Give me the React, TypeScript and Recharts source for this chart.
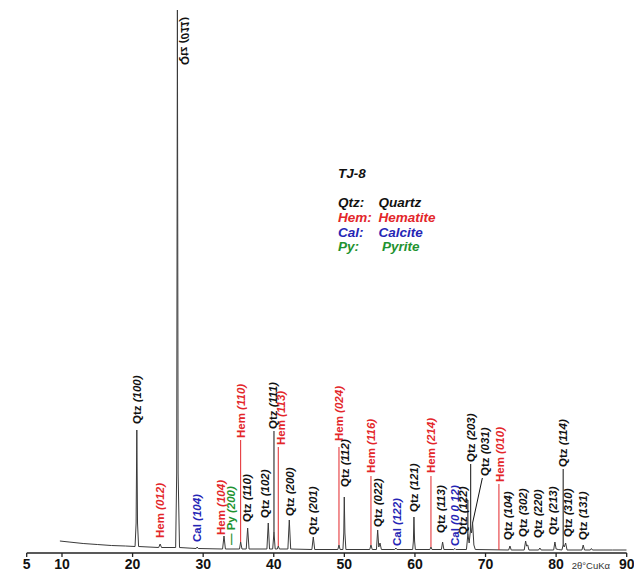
import {
    LineChart,
    Line,
    XAxis,
    YAxis,
    ReferenceLine,
    ReferenceDot,
} from 'recharts';

// measured XRD pattern of sample TJ-8 (2theta in degrees, intensity in a.u.)
const twoTheta = [
    9.7, 11, 13, 15, 17, 19,
    20.35, 20.5, 20.6, 20.7, 20.85,
    23.7, 23.9, 24.1,
    26.1, 26.25, 26.35, 26.45, 26.65,
    29.0, 29.15, 29.3,
    32.75, 32.95, 33.15,
    35.15, 35.31, 35.5,
    36.1, 36.3, 36.5,
    39.03, 39.22, 39.4,
    39.85, 40.03, 40.2,
    40.5, 40.64, 40.8,
    42.0, 42.2, 42.4,
    45.4, 45.6, 45.8,
    49.08, 49.24, 49.4,
    49.8, 49.92, 49.99, 50.08, 50.22,
    53.6, 53.77, 53.95,
    54.55, 54.72, 54.88, 55.05, 55.25,
    57.15, 57.3, 57.45,
    59.68, 59.78, 59.86, 59.95, 60.06,
    62.12, 62.27, 62.42,
    63.75, 63.92, 64.1,
    65.5, 65.66, 65.8,
    67.3, 67.5, 67.68, 67.9, 68.02, 68.17, 68.35, 68.55,
    73.28, 73.46, 73.64,
    75.48, 75.68, 75.82, 75.98, 76.15,
    77.52, 77.7, 77.88,
    79.65, 79.83, 80.0, 80.3,
    80.82, 81.0, 81.15, 81.35, 81.55,
    83.66, 83.84, 84.02,
    84.85, 85.0, 85.15,
    88, 90,
];
const intensity = [
    12, 11, 9.5, 8.5, 7.5, 7,
    6.5, 30, 123, 30, 6.5,
    5.5, 9, 5.5,
    5.5, 80, 543, 80, 5.5,
    4.5, 6, 4.5,
    4, 17, 4,
    4, 11, 4,
    4, 25, 4,
    4, 30, 4,
    4, 21, 4,
    4, 7, 4,
    4, 33, 4,
    3.5, 16, 3.5,
    3.5, 8, 3.5,
    3.5, 20, 56, 20, 3.5,
    3.5, 8, 3.5,
    3.5, 23, 6, 10, 3.5,
    3.5, 5, 3.5,
    3.5, 12, 36, 12, 3.5,
    3.5, 6, 3.5,
    3.5, 11, 3.5,
    3.5, 4.5, 3.5,
    3.5, 19, 10, 25, 20, 30, 8, 3.5,
    3, 7, 3,
    3, 12, 7, 8, 3,
    3, 5, 3,
    3, 11, 4, 3.5,
    3, 8, 6, 10, 3,
    3, 8, 3,
    3, 4.5, 3,
    3, 3,
];

const xTicks = [5, 10, 20, 30, 40, 50, 60, 70, 80, 90];

const peakNames = [
    'Qtz (100)', 'Hem (012)', 'Qtz (011)', 'Cal (104)', 'Hem (104)', '— Py (200)',
    'Hem (110)', 'Qtz (110)', 'Qtz (102)', 'Qtz (111)', 'Hem (113)', 'Qtz (200)',
    'Qtz (201)', 'Hem (024)', 'Qtz (112)', 'Hem (116)', 'Qtz (022)', 'Cal (122)',
    'Qtz (121)', 'Hem (214)', 'Qtz (113)', 'Cal (0 0 12)', 'Qtz (122)', 'Qtz (203)',
    'Qtz (031)', 'Hem (010)', 'Qtz (104)', 'Qtz (302)', 'Qtz (220)', 'Qtz (213)',
    'Qtz (114)', 'Qtz (310)', 'Qtz (131)',
];

const phaseCodes = ['Qtz', 'Hem', 'Cal', 'Py'];
const phaseNames = ['Quartz', 'Hematite', 'Calcite', 'Pyrite'];

const COLORS: Record<string, string> = {
    Qtz: '#111111',
    Hem: '#e3262a',
    Cal: '#2525b5',
    Py: '#1f9330',
};

// where each label sits: [2theta, intensity at the start of the text]
const labelAt: Record<string, [number, number]> = {
    'Qtz (100)': [20.58, 129],
    'Hem (012)': [23.88, 15],
    'Qtz (011)': [27.38, 488],
    'Cal (104)': [29.12, 11],
    'Hem (104)': [32.52, 18],
    '— Py (200)': [34.0, 8],
    'Hem (110)': [35.31, 115],
    'Qtz (110)': [36.27, 31],
    'Qtz (102)': [38.75, 35],
    'Qtz (111)': [39.85, 124],
    'Hem (113)': [41.0, 108],
    'Qtz (200)': [42.3, 37],
    'Qtz (201)': [45.6, 18],
    'Hem (024)': [49.2, 112],
    'Qtz (112)': [50.08, 66],
    'Hem (116)': [53.8, 80],
    'Qtz (022)': [54.8, 26],
    'Cal (122)': [57.41, 7],
    'Qtz (121)': [59.82, 41],
    'Hem (214)': [62.3, 80],
    'Qtz (113)': [63.68, 20],
    'Cal (0 0 12)': [65.66, 7],
    'Qtz (122)': [66.84, 18],
    'Qtz (203)': [67.98, 91],
    'Qtz (031)': [69.9, 77],
    'Hem (010)': [71.98, 71],
    'Qtz (104)': [73.2, 13],
    'Qtz (302)': [75.34, 16],
    'Qtz (220)': [77.46, 15],
    'Qtz (213)': [79.59, 18],
    'Qtz (114)': [81.0, 86],
    'Qtz (310)': [81.71, 16],
    'Qtz (131)': [83.84, 13],
};

// leader lines from peak to label: [x1, y1, x2, y2, phase]
const leaders: [number, number, number, number, string][] = [
    [35.31, 11, 35.31, 113, 'Hem'],
    [40.03, 21, 40.03, 122, 'Qtz'],
    [40.64, 7, 40.64, 106, 'Hem'],
    [49.24, 8, 49.24, 106, 'Hem'],
    [53.77, 8, 53.77, 77, 'Hem'],
    [62.27, 6, 62.27, 77, 'Hem'],
    [67.5, 19, 67.5, 53, 'Qtz'],
    [67.0, 53, 67.5, 53, 'Qtz'],
    [67.9, 25, 67.9, 89, 'Qtz'],
    [68.17, 30, 69.55, 75, 'Qtz'],
    [71.9, 3, 71.9, 69, 'Hem'],
    [81.0, 8, 81.0, 84, 'Qtz'],
];

const FONT = '"Liberation Sans", Arial, sans-serif';

const data = twoTheta.map((t, k) => ({ t, i: intensity[k] }));

const PeakText = (props: any) => {
    const { cx, cy, name } = props;
    // the main peak label is printed mirrored in the original figure
    const mirrored = name === 'Qtz (011)';
    const m = name.match(/^(.*?)(\(.*\))$/);
    const phase = name.replace('— ', '').split(' ')[0];
    return (
        <text
            x={0}
            y={0}
            transform={`translate(${cx} ${cy}) rotate(-90)${mirrored ? ' scale(1 -1)' : ''}`}
            fill={COLORS[phase]}
            fontSize={11.5}
            fontWeight="bold"
            fontFamily={FONT}
            dominantBaseline="central"
            textAnchor="start"
        >
            {m[1]}
            <tspan fontStyle="italic">{m[2]}</tspan>
        </text>
    );
};

const AxisUnit = (props: any) => {
    const { viewBox } = props;
    return (
        <text
            x={viewBox.x + viewBox.width - 55}
            y={viewBox.y + 16}
            fontSize={9.5}
            fill="#333"
            fontFamily={FONT}
        >
            2θ°CuKα
        </text>
    );
};

const Legend = () => (
    <svg
        width={634}
        height={576}
        style={{ position: 'absolute', left: 0, top: 0, pointerEvents: 'none' }}
    >
        <g fontFamily={FONT} fontWeight="bold" fontStyle="italic" fontSize={13.5}>
            <text x={338} y={178} fill="#111">TJ-8</text>
            {phaseCodes.map((code, k) => (
                <g key={code} fill={COLORS[code]}>
                    <text x={338} y={207 + k * 14.8}>{code}:</text>
                    <text x={code === 'Py' ? 382 : 378.5} y={207 + k * 14.8}>{phaseNames[k]}</text>
                </g>
            ))}
        </g>
    </svg>
);

const App = () => {
    return (
        <div style={{ position: 'absolute', left: 0, top: 0, width: 634, height: 576, background: '#fff' }}>
            <LineChart
                width={634}
                height={576}
                data={data}
                margin={{ top: 10, right: 7.3, bottom: 0, left: 26.7 }}
            >
                <XAxis
                    dataKey="t"
                    type="number"
                    domain={[5, 90]}
                    ticks={xTicks}
                    allowDataOverflow
                    height={23}
                    tickSize={4}
                    tickMargin={2}
                    axisLine={{ stroke: '#222', strokeWidth: 1.3 }}
                    tickLine={{ stroke: '#222', strokeWidth: 1.3 }}
                    tick={{ fill: '#111', fontSize: 14, fontWeight: 'bold', fontFamily: FONT }}
                    label={<AxisUnit />}
                />
                <YAxis hide domain={[0, 543]} allowDataOverflow />
                <Line
                    dataKey="i"
                    type="linear"
                    stroke="#3a3a3a"
                    strokeWidth={1}
                    dot={false}
                    isAnimationActive={false}
                />
                {leaders.map(([x1, y1, x2, y2, phase], k) => (
                    <ReferenceLine
                        key={`ld-${k}`}
                        segment={[{ x: x1, y: y1 }, { x: x2, y: y2 }]}
                        stroke={COLORS[phase]}
                        strokeWidth={1}
                    />
                ))}
                {peakNames.map(name => (
                    <ReferenceDot
                        key={name}
                        x={labelAt[name][0]}
                        y={labelAt[name][1]}
                        ifOverflow="visible"
                        shape={(p: any) => <PeakText {...p} name={name} />}
                    />
                ))}
            </LineChart>
            <Legend />
        </div>
    );
};

export default App;
